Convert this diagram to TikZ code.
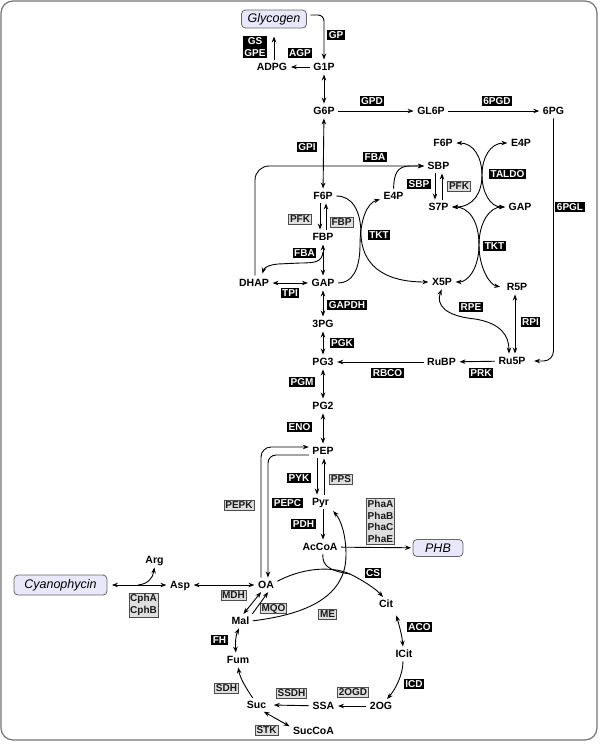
\documentclass[tikz,border=0pt]{standalone}
\usepackage{fontspec}
\setmainfont{Liberation Sans}
\usetikzlibrary{arrows.meta}
\definecolor{lav}{RGB}{232,232,250}
\begin{document}
\begin{tikzpicture}[x=1pt,y=-1pt,
  met/.style={font=\bfseries\fontsize{10.5}{12}\selectfont, inner sep=2pt, text height=7.5pt, text depth=0pt},
  enzb/.style={fill=black, text=white, font=\bfseries\fontsize{10}{11.7}\selectfont, inner xsep=1.5pt, inner ysep=1.8pt},
  enz/.style={enzb, text height=7.2pt, text depth=0pt},
  genzb/.style={fill=black!13, draw=black!70, line width=0.6pt, text=black!90, font=\bfseries\fontsize{10}{11.7}\selectfont, inner xsep=1.3pt, inner ysep=1.6pt},
  genz/.style={genzb, text height=7.2pt, text depth=0pt},
  store/.style={draw=black!60, fill=lav, rounded corners=4pt, line width=0.8pt, font=\itshape\fontsize{12.5}{14}\selectfont, inner sep=1pt},
  ln/.style={line width=0.9pt, shorten >=1.5pt, shorten <=1.5pt},
  arr/.style={ln, -{Stealth[length=6pt,width=4.5pt]}},
  dbl/.style={ln, {Stealth[length=6pt,width=4.5pt]}-{Stealth[length=6pt,width=4.5pt]}},
]
\useasboundingbox (0,0) rectangle (600,745);
\draw[draw=black!55, line width=1.2pt, rounded corners=12pt] (1,1) rectangle (597,740);

% ---------- metabolites ----------
\node[store, minimum width=65pt, minimum height=18pt] (glyc) at (274,19) {Glycogen};
\node[met] (g1p) at (324,67) {G1P};
\node[met] (adpg) at (272,67) {ADPG};
\node[met] (g6p) at (324,111) {G6P};
\node[met] (gl6p) at (431,111) {GL6P};
\node[met] (pg6) at (553.5,111) {6PG};
\node[met] (f6p) at (323,196) {F6P};
\node[met] (fbp) at (323,237) {FBP};
\node[met] (gap) at (323,283) {GAP};
\node[met] (dhap) at (254,283) {DHAP};
\node[met] (pga) at (323,324) {3PG};
\node[met] (pg3) at (323,362) {PG3};
\node[met] (pg2) at (323,406) {PG2};
\node[met] (pep) at (323,451) {PEP};
\node[met] (pyr) at (320.5,502) {Pyr};
\node[met] (accoa) at (320,547) {AcCoA};
\node[store, minimum width=50pt, minimum height=17pt] (phb) at (438,548) {PHB};
\node[met] (e4pl) at (393.5,196) {E4P};
\node[met] (f6pu) at (443,143) {F6P};
\node[met] (e4pu) at (521,143) {E4P};
\node[met] (sbp) at (438.5,166) {SBP};
\node[met] (s7p) at (438.5,207) {S7P};
\node[met] (gapr) at (520,207) {GAP};
\node[met] (x5p) at (442,282) {X5P};
\node[met] (r5p) at (517,287) {R5P};
\node[met] (ru5p) at (512,361) {Ru5P};
\node[met] (rubp) at (441.5,362) {RuBP};
\node[met] (oa) at (266,585) {OA};
\node[met] (asp) at (180,585) {Asp};
\node[met] (arg) at (154.5,560) {Arg};
\node[store, minimum width=93pt, minimum height=20pt] (cyano) at (60.5,585) {Cyanophycin};
\node[met] (mal) at (240.5,621) {Mal};
\node[met] (fum) at (238,660) {Fum};
\node[met] (suc) at (256.5,705) {Suc};
\node[met] (succoa) at (313.5,731) {SucCoA};
\node[met] (ssa) at (323.5,706) {SSA};
\node[met] (og) at (381,706) {2OG};
\node[met] (icit) at (404,654) {ICit};
\node[met] (cit) at (386,604) {Cit};

% ---------- enzyme labels ----------
\node[enz] (lgp) at (336,35) {GP};
\node[enz] (lagp) at (300,53) {AGP};
\node[enzb, align=center] (lgs) at (255,47) {GS\\GPE};
\node[enz] (lgpd) at (372,101) {GPD};
\node[enz] (l6pgd) at (497,101) {6PGD};
\node[enz] (lgpi) at (307,147) {GPI};
\node[enz] (lfba) at (375,157) {FBA};
\node[enz] (ltaldo) at (507.5,174) {TALDO};
\node[enz] (lsbp) at (419,184) {SBP};
\node[genz] (lpfk2) at (459,186) {PFK};
\node[enz] (l6pgl) at (570,207) {6PGL};
\node[genz] (lpfk) at (300,219) {PFK};
\node[genz] (lfbp) at (341.5,222) {FBP};
\node[enz] (ltkt) at (379,235) {TKT};
\node[enz] (ltkt2) at (494.5,246) {TKT};
\node[enz] (lfba2) at (304.5,253) {FBA};
\node[enz] (ltpi) at (290,293) {TPI};
\node[enz] (lgapdh) at (347,305) {GAPDH};
\node[enz] (lrpe) at (471,307) {RPE};
\node[enz] (lrpi) at (530.5,322) {RPI};
\node[enz] (lpgk) at (342,343) {PGK};
\node[enz] (lrbco) at (387.5,373) {RBCO};
\node[enz] (lprk) at (481,373) {PRK};
\node[enz] (lpgm) at (302,382) {PGM};
\node[enz] (leno) at (299.5,427) {ENO};
\node[enz] (lpyk) at (299,478) {PYK};
\node[genz] (lpps) at (341,479) {PPS};
\node[enz] (lpepc) at (287.5,503) {PEPC};
\node[genz] (lpepk) at (239,505) {PEPK};
\node[enz] (lpdh) at (303.5,524) {PDH};
\node[genzb, align=center] (lpha) at (380.5,521.5) {PhaA\\PhaB\\PhaC\\PhaE};
\node[enz] (lcs) at (373,573) {CS};
\node[genz] (lmdh) at (233.5,595) {MDH};
\node[genz] (lmqo) at (273.5,608) {MQO};
\node[genz] (lme) at (327.5,614) {ME};
\node[enz] (lfh) at (219.5,640) {FH};
\node[enz] (laco) at (419.5,627) {ACO};
\node[genz] (lsdh) at (226.5,688) {SDH};
\node[genz] (lssdh) at (291.5,693) {SSDH};
\node[genz] (logd) at (353,692) {2OGD};
\node[enz] (licd) at (414,684) {ICD};
\node[genz] (lstk) at (266.5,730) {STK};
\node[genzb, align=center] (lcph) at (143.5,605) {CphA\\CphB};

% ---------- connectors ----------
\coordinate (gstip) at (274,35);
\coordinate (fbab) at (323,252);
\coordinate (argb) at (138,585);
\coordinate (csj) at (350,574);

\draw[arr, rounded corners=6pt] ([xshift=2pt,yshift=4pt]glyc.east) -| (g1p.north);
\draw[arr] (g1p) -- (adpg);
\draw[arr] ([xshift=2pt]adpg.north) -- (gstip);
\draw[dbl] (g1p) -- (g6p);
\draw[arr] (g6p) -- (gl6p);
\draw[arr] (gl6p) -- (pg6);
\draw[arr, rounded corners=10pt] (pg6.south) |- ([xshift=5pt]ru5p.east);
\draw[dbl] (g6p) -- (f6p);
\draw[arr] ([xshift=-3pt]f6p.south) -- ([xshift=-3pt]fbp.north);
\draw[arr] ([xshift=3pt]fbp.north) -- ([xshift=3pt]f6p.south);
\draw[dbl] (fbp) -- (gap);
\draw[dbl] (dhap) -- (gap);
\draw[dbl] (gap) -- (pga);
\draw[dbl] (pga) -- (pg3);
\draw[dbl] (pg3) -- (pg2);
\draw[dbl] (pg2) -- (pep);
\draw[arr] (rubp) -- (pg3);
\draw[arr] (ru5p) -- (rubp);
\draw[dbl] ([xshift=-2pt]r5p.south) -- ([xshift=3pt]ru5p.north);
\draw[dbl] (x5p.south) .. controls (436,305) and (445,316) .. (475,319) .. controls (500,323) and (509,335) .. ([xshift=-3pt]ru5p.north);

% FBA (upper) and E4P -> SBP
\draw[arr, rounded corners=14pt] ([xshift=1pt]dhap.north) |- (sbp.west);
\draw[arr] (e4pl.north) .. controls (394,174) and (397,166) .. (410,166) -- (sbp.west);
% FBA (lower)
\draw[arr, shorten <=0pt] (fbab) .. controls (322,262) and (315,263) .. (300,263) -- (278,264) .. controls (268,265) and (264,268) .. ([xshift=8pt,yshift=2pt]dhap.north);

% TKT (upper)
\draw[arr] (f6p.east) .. controls (352,196) and (361,210) .. (361,235) .. controls (362,262) and (380,282) .. (x5p.west);
\draw[arr] (gap.east) .. controls (352,283) and (360,270) .. (360,245) .. controls (360,220) and (367,203) .. ([yshift=-3pt]e4pl.west);

% TALDO
\draw[dbl] (f6pu.east) .. controls (474,143) and (482,158) .. (482,175) .. controls (482,192) and (474,207) .. (s7p.east);
\draw[dbl] (e4pu.west) .. controls (490,143) and (482,158) .. (482,175) .. controls (482,192) and (490,207) .. (gapr.west);
% TKT (lower)
\draw[dbl] (s7p.east) .. controls (468,207) and (479,220) .. (479,245) .. controls (479,268) and (468,282) .. (x5p.east);
\draw[dbl] (gapr.west) .. controls (490,207) and (479,222) .. (479,245) .. controls (479,268) and (490,285) .. ([xshift=-3pt]r5p.west);
% SBP <-> S7P
\draw[arr] ([xshift=-3.5pt]sbp.south) -- ([xshift=-3.5pt]s7p.north);
\draw[arr] ([xshift=3.5pt]s7p.north) -- ([xshift=3.5pt]sbp.south);

% lower glycolysis
\draw[arr] ([xshift=-6pt]pep.south) -- ([xshift=-3.5pt]pyr.north);
\draw[arr] ([xshift=3.5pt]pyr.north) -- ([xshift=1pt]pep.south);
\draw[arr] ([xshift=2.5pt]pyr.south) -- ([xshift=3pt]accoa.north);
\draw[arr] (accoa) -- (phb);
\draw[arr, rounded corners=10pt] ([xshift=-5pt]oa.north) |- ([yshift=4pt]pep.west);
\draw[arr, rounded corners=8pt] ([yshift=-4pt]pep.west) -| ([xshift=2pt]oa.north);

% cyanophycin
\draw[dbl] (asp) -- (oa);
\draw[dbl] ([xshift=3pt]cyano.east) -- (asp);
\draw[arr, shorten <=0pt] (argb) .. controls (148,584) and (153,578) .. (arg.south);

% TCA
\draw[arr] ([yshift=3pt]oa.east) .. controls (300,569) and (330,565) .. (csj) .. controls (362,580) and (375,588) .. ([xshift=-2pt]cit.north);
\draw[ln, shorten >=0pt] ([xshift=3pt]accoa.south) .. controls (322,566) and (330,571) .. (csj);
\draw[arr] (mal.east) .. controls (300,615) and (346,600) .. (346,555) .. controls (346,535) and (341,520) .. ([xshift=1pt,yshift=-8pt]pyr.east);
\draw[dbl] ([xshift=2pt]mal.north) -- ([xshift=-4pt]oa.south);
\draw[arr] (mal.north east) -- ([xshift=3pt]oa.south);
\draw[dbl] ([xshift=-1pt]mal.south) .. controls (236,635) and (235,642) .. ([xshift=-2pt]fum.north);
\draw[arr] ([xshift=-3pt]suc.north) .. controls (246,688) and (240,678) .. (fum.south);
\draw[dbl] ([xshift=6pt]suc.south) -- ([yshift=4pt]succoa.west);
\draw[arr] (ssa) -- ([xshift=4pt]suc.east);
\draw[arr] (og) -- (ssa);
\draw[arr] ([xshift=-1pt]icit.south) .. controls (403,675) and (395,690) .. ([xshift=5pt]og.north);
\draw[dbl] ([xshift=10pt,yshift=-4pt]cit.south) .. controls (399,625) and (402,635) .. ([xshift=-1pt]icit.north);
\end{tikzpicture}
\end{document}
